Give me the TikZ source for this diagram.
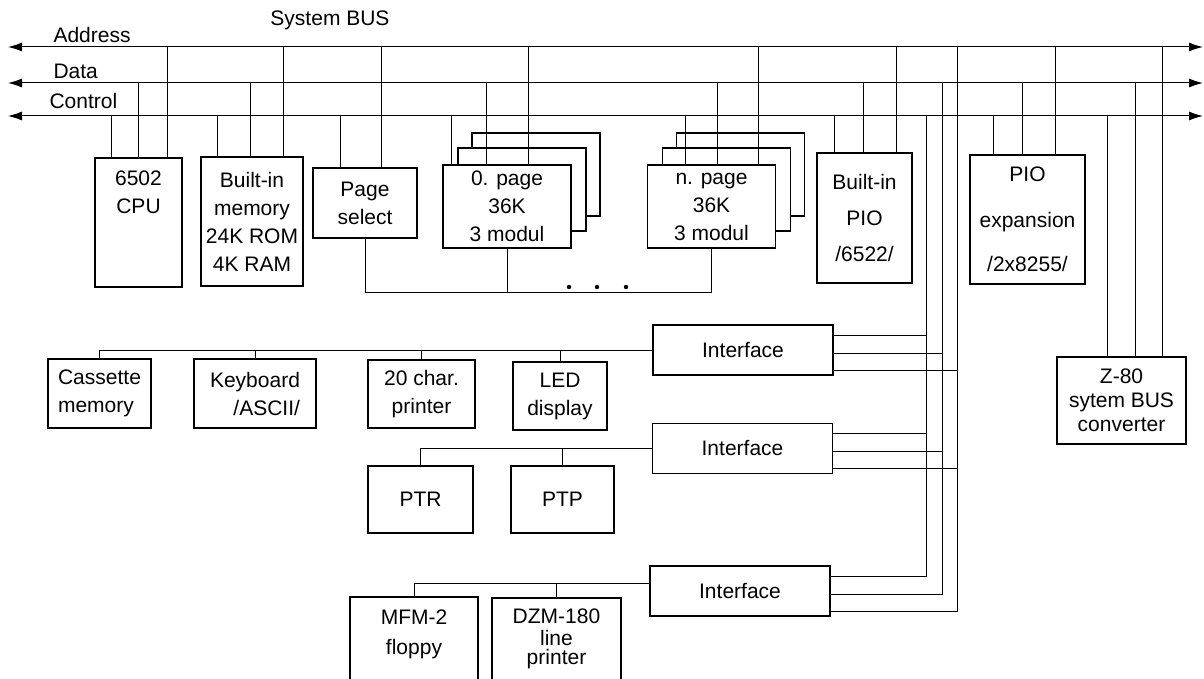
\documentclass[tikz,border=0pt]{standalone}
\usepackage{fontspec}
\setmainfont{Liberation Sans}
\usetikzlibrary{arrows.meta,calc}

\begin{document}
\begin{tikzpicture}[x=1pt,y=-1pt,
  font=\fontsize{21}{28}\selectfont,
  unit/.style={draw,line width=1.7pt,fill=white,align=center,inner sep=2pt},
  iface/.style={unit,minimum width=180pt,minimum height=50pt},
  card/.style={unit,minimum width=128pt,minimum height=83pt},
  wire/.style={line width=0.8pt},
  bus/.style={line width=1pt,{Latex[length=14pt,width=9pt]}-{Latex[length=14pt,width=9pt]}}]

\useasboundingbox (0,0) rectangle (1204,679);
\clip (0,0) rectangle (1204,679);

% system bus
\coordinate (adrL) at (8,47);   \coordinate (adrR) at (1203,47);
\coordinate (datL) at (8,83);   \coordinate (datR) at (1203,83);
\coordinate (ctlL) at (8,116);  \coordinate (ctlR) at (1203,116);
\draw[bus] (adrL) -- (adrR);
\draw[bus] (datL) -- (datR);
\draw[bus] (ctlL) -- (ctlR);

\node (title) at (330,20) {System BUS};
\node[anchor=west] (adrlbl) at (50,35) {Address};
\node[anchor=west] (datlbl) at (50,71) {Data};
\node[anchor=west] (ctllbl) at (46,101) {Control};

% memory pages, back cards first
\node[card] (page0c) at (536,174.5) {};
\node[card] (page0b) at (522,189.5) {};
\node[card] (page0) at (507,206.5) {0. page\\36K\\3 modul};
\node[card] (npagec) at (740.5,174.5) {};
\node[card] (npageb) at (726.5,189.5) {};
\node[card] (npage) at (711.5,206.5) {n. page\\36K\\3 modul};

% units on the bus
\node[unit,minimum width=87pt,minimum height=129pt,
  label={[align=center,anchor=north,yshift=-10pt]north:6502\\CPU}] (cpu) at (138.5,222.5) {};
\node[unit,minimum width=102pt,minimum height=129pt] (mem) at (252,221.5) {Built-in\\memory\\24K ROM\\4K RAM};
\node[unit,minimum width=104pt,minimum height=70pt] (pagesel) at (365,203) {Page\\select};
\node[unit,minimum width=95pt,minimum height=130pt] (pio) at (864.5,218) {Built-in\\[8pt]PIO\\[8pt]/6522/};
\node[unit,minimum width=115pt,minimum height=129pt] (pioexp) at (1027.5,219.5) {PIO\\[18pt]expansion\\[16pt]/2x8255/};
\node[unit,minimum width=129pt,minimum height=87pt] (z80) at (1121.5,400.5) {Z-80\\[-4pt]sytem BUS\\[-4pt]converter};

% bus taps
\foreach \x/\b/\n in {111/ctlL/cpu,138/datL/cpu,167/adrL/cpu,
    217/ctlL/mem,250/datL/mem,283/adrL/mem,
    340/ctlL/pagesel,381/adrL/pagesel,
    451/ctlL/page0,486/datL/page0,528/adrL/page0,
    685/ctlL/npage,717/datL/npage,758/adrL/npage,
    834/ctlL/pio,863/datL/pio,896/adrL/pio,
    993/ctlL/pioexp,1022/datL/pioexp,1055/adrL/pioexp,
    1107/ctlL/z80,1135/datL/z80,1162/adrL/z80}
  \draw[wire] (\x,0 |- \b) -- (\x,0 |- \n.north);

% page select line
\coordinate (selbus) at (0,292);
\draw[wire] (pagesel.south) |- (npage.south |- selbus) -- (npage.south);
\draw[wire] (page0.south) -- (page0.south |- selbus);
\foreach \x in {569,597,626} \fill (\x,287) circle (2.2pt);

% interfaces
\node[iface] (if1) at (743,350) {Interface};
\node[iface] (if2) at (742.5,448.5) {Interface};
\node[iface] (if3) at (740,591) {Interface};

\foreach \b/\x/\dy in {ctlL/926/-15,datL/942/3,adrL/957/20} {
  \draw[wire] ($(if3.east)+(0,\dy)$) -| (\x,0 |- \b);
  \draw[wire] ($(if1.east)+(0,\dy)$) coordinate (if1out) -- (if1out -| \x,0);
  \draw[wire] ($(if2.east)+(0,\dy)$) coordinate (if2out) -- (if2out -| \x,0);
}

% peripherals, first row
\node[unit,minimum width=103pt,minimum height=69pt,align=left] (cass) at (99.5,393.5) {Cassette\\memory};
\node[unit,minimum width=122pt,minimum height=69pt,align=right] (kbd) at (255,393.5) {Keyboard\\/ASCII/};
\node[unit,minimum width=107pt,minimum height=68pt] (prn20) at (421.5,394) {20 char.\\printer};
\node[unit,minimum width=94pt,minimum height=68pt] (led) at (560,396) {LED\\display};
\draw[wire] (cass.north) |- (if1.west);
\foreach \n in {kbd,prn20,led} \draw[wire] (\n.north) -- (\n.north |- if1.west);

% second row
\node[unit,minimum width=105pt,minimum height=67pt] (ptr) at (420.5,499.5) {PTR};
\node[unit,minimum width=103pt,minimum height=67pt] (ptp) at (562.5,499.5) {PTP};
\draw[wire] (ptr.north) |- (if2.west);
\draw[wire] (ptp.north) -- (ptp.north |- if2.west);

% third row
\node[unit,minimum width=128pt,minimum height=100pt,
  label={[align=center,anchor=north,yshift=-10pt]north:MFM-2\\[2pt]floppy}] (mfm) at (414,647) {};
\node[unit,minimum width=129pt,minimum height=100pt,
  label={[align=center,anchor=north,yshift=-8pt]north:DZM-180\\[-6pt]line\\[-9pt]printer}] (dzm) at (556.5,648) {};
\coordinate (if3in) at ($(if3.west)+(0,-8)$);
\draw[wire] (mfm.north) |- (if3in);
\draw[wire] (dzm.north) -- (dzm.north |- if3in);

\end{tikzpicture}
\end{document}
